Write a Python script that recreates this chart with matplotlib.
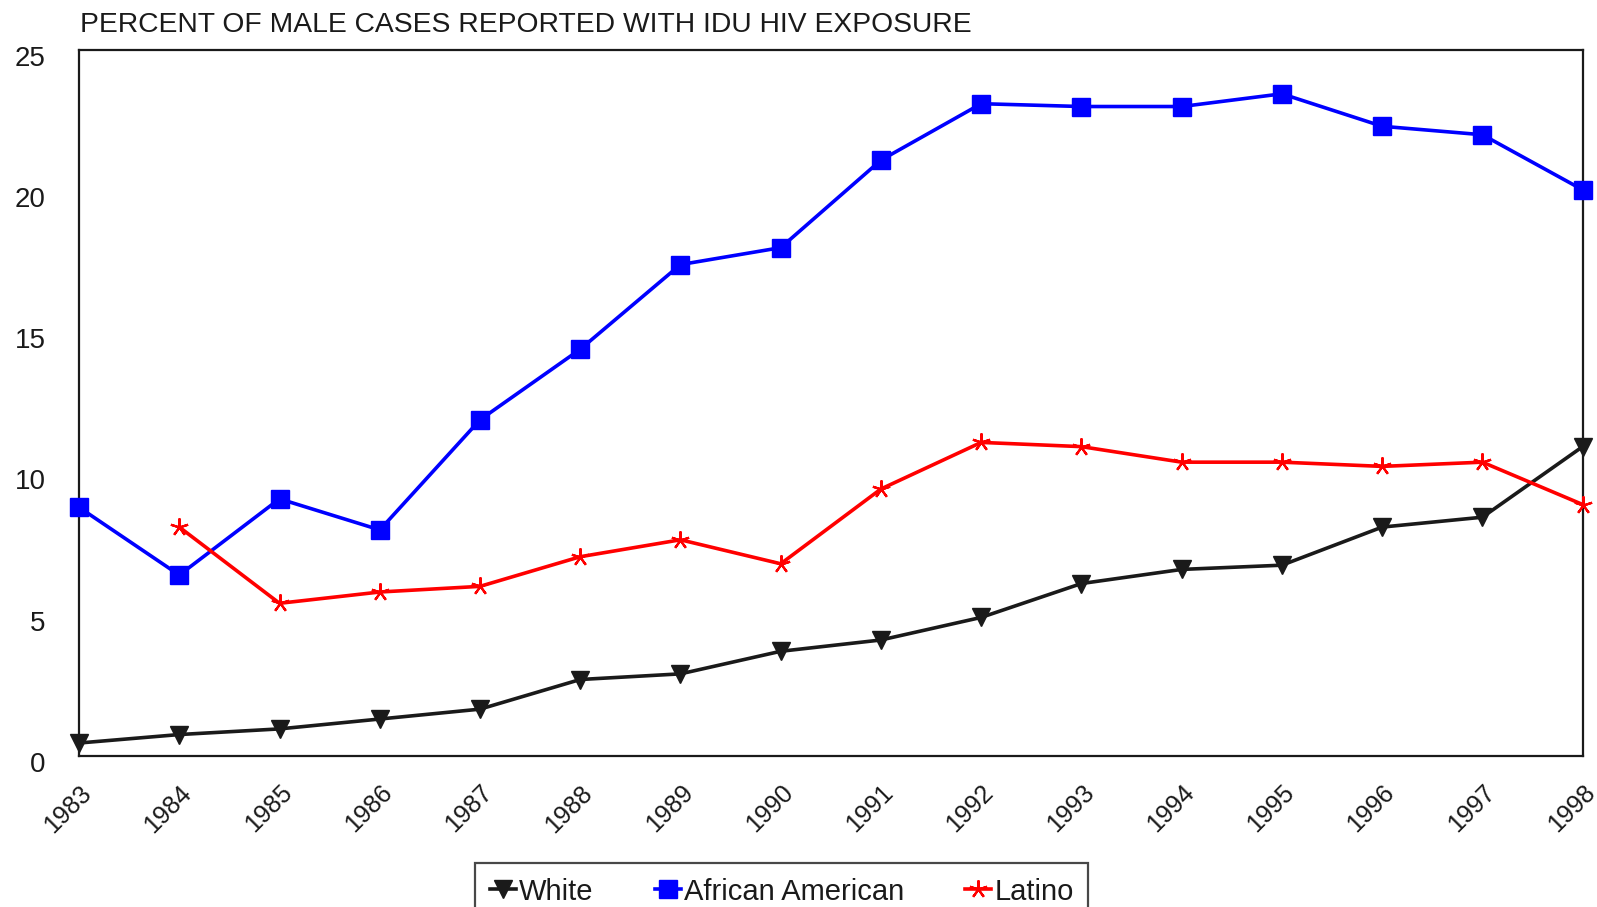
import numpy as np
import matplotlib
matplotlib.use("Agg")
import matplotlib.pyplot as plt
import matplotlib.transforms as mtransforms

# data (percent)
years = list(range(1983, 1999))
white = [0.45, 0.75, 0.95, 1.3, 1.65, 2.7, 2.9, 3.7, 4.1, 4.9,
         6.1, 6.6, 6.75, 8.1, 8.45, 10.95]
african_american = [8.8, 6.4, 9.1, 8.0, 11.9, 14.4, 17.4, 18.0, 21.1, 23.1,
                    23.0, 23.0, 23.45, 22.3, 22.0, 20.05]
latino = [np.nan, 8.1, 5.4, 5.8, 6.0, 7.05, 7.65, 6.8, 9.45, 11.1,
          10.95, 10.4, 10.4, 10.25, 10.4, 8.9]

title = "PERCENT OF MALE CASES REPORTED WITH IDU HIV EXPOSURE"
y_ticks = [0, 5, 10, 15, 20, 25]

plt.rcParams['font.family'] = ['Liberation Sans', 'DejaVu Sans']

fig = plt.figure(figsize=(15.97, 9.07), dpi=100)
ax = fig.add_axes([0.0495, 0.1668, 0.9415, 0.778])

dark = '#1a1a1a'
ax.plot(years, white, color=dark, lw=2.6, marker='v', markersize=13,
        label='White', zorder=3, clip_on=False)
ax.plot(years, african_american, color='#0000ff', lw=2.6, marker='s',
        markersize=12.5, label='African American', zorder=3, clip_on=False)
ax.plot(years, latino, color='#ff0000', lw=2.6, marker=(5, 2, 0),
        markersize=13, markeredgewidth=1.6, label='Latino', zorder=3,
        clip_on=False)

ax.set_xlim(years[0], years[-1])
ax.set_ylim(0, 25)
ax.set_yticks(y_ticks)
ax.set_xticks(years)
ax.set_xticklabels([str(y) for y in years], rotation=45, ha='center',
                   va='top', fontsize=18, color=dark)
ax.tick_params(axis='x', length=0, pad=18)
ax.tick_params(axis='y', length=0, pad=24, labelsize=20, labelcolor=dark)

# shift tick labels to match the original placement
dx = mtransforms.ScaledTranslation(-0.11, 0, fig.dpi_scale_trans)
for lab in ax.get_xticklabels():
    lab.set_transform(lab.get_transform() + dx)
dy = mtransforms.ScaledTranslation(0, -0.06, fig.dpi_scale_trans)
for lab in ax.get_yticklabels():
    lab.set_transform(lab.get_transform() + dy)

for s in ax.spines.values():
    s.set_linewidth(1.6)
    s.set_color(dark)

fig.text(80 / 1597, 1 - 25 / 907, title, fontsize=20.3, color=dark,
         ha='left', va='center')

leg = fig.legend(loc='upper left', bbox_to_anchor=(475 / 1597, 44 / 907),
                 ncol=3, fontsize=21, handlelength=0.9, handletextpad=0.1,
                 columnspacing=2.1, borderpad=0.5, borderaxespad=0,
                 fancybox=False, frameon=True)
leg.get_frame().set_edgecolor(dark)
leg.get_frame().set_linewidth(1.6)
for t in leg.get_texts():
    t.set_color(dark)

fig.savefig('out.png', dpi=100)
